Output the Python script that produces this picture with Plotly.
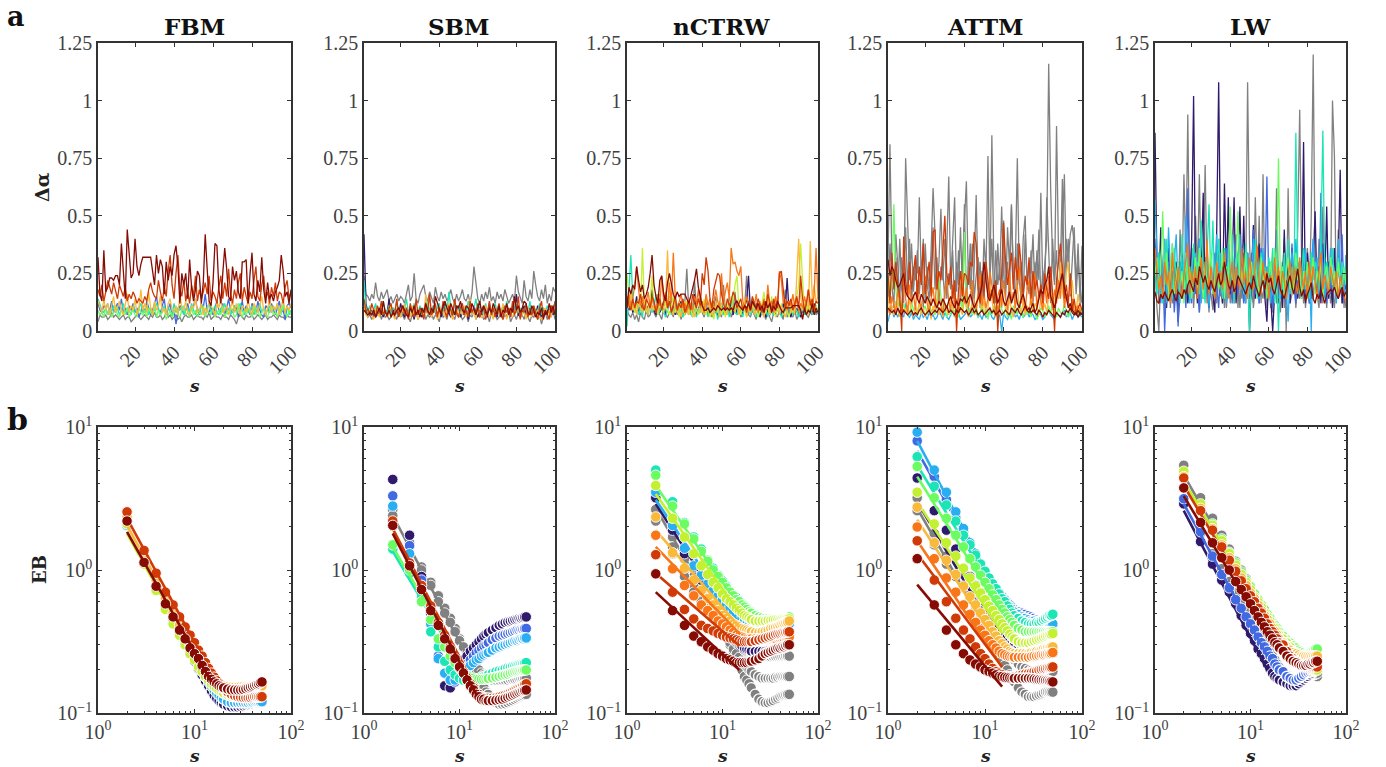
import plotly.graph_objects as go

# All values are estimates.
# Top row: delta-alpha in hundredths, one value per s = 1, 2, 3, ...
GRAY="#808080";NAVY="#2f1a6c";BLUE="#4169e1";LBLUE="#29aef2";TEAL="#1ce5b5";GREEN="#6dfb62";YGREEN="#c4f032";AMBER="#f9b93b";ORANGE="#f87518";RED="#cf3a06";DARK="#860b03"
ORDER=[GRAY,NAVY,BLUE,LBLUE,TEAL,GREEN,YGREEN,AMBER,ORANGE,RED,DARK]

fbm_gray=[4,7,6,6,7,5,6,8,6,7,6,5,6,7,5,6,6,4,5,6,7,6,5,6,7,6,5,7,6,8,6,6,7,5,6,8,6,7,5,6,7,5,6,4,6,7,6,6,7,5,6,7,6,6,5,7,6,8,5,6,7,6,6,5,7,6,6,5,7,6,5,3,6,7,6,5,7,6,6,7,5,6,7,6,5,6,7,5,6,6,7,6,5,7,6,6,5,7,6,6]
fbm_blue=[12,9,8,11,10,7,9,13,8,10,12,9,14,8,10,7,11,9,12,8,10,6,9,11,8,13,10,7,9,12,15,9,8,11,14,7,10,12,6,9,3,8,11,10,7,9,12,8,10,11,14,9,7,12,10,16,9,8,11,7,10,13,9,8,12,7,10,14,9,8,11,10,6,9,13,8,11,9,7,12,10,8,13,9,7,6,11,10,8,12,9,7,10,13,8,9,5,11,12,10]
fbm_teal=[14,11,9,8,10,12,7,9,11,8,10,7,9,12,8,10,9,7,11,9,8,10,12,8,9,11,7,10,8,9,12,10,7,9,11,8,10,9,7,12,8,10,9,11,7,9,10,8,12,9,7,10,8,11,9,7,10,12,8,9,11,8,7,10,9,12,8,10,7,9,11,8,10,12,9,7,10,8,9,11,7,10,9,12,8,10,7,9,11,8,10,9,12,7,9,10,8,11,7,9]
fbm_green=[9,7,8,6,10,7,9,6,8,11,7,6,9,8,7,10,6,8,9,7,6,10,8,7,9,6,10,8,7,11,6,9,7,8,10,5,7,9,6,8,10,7,6,9,11,7,8,6,10,7,9,6,8,7,11,6,9,8,7,10,6,8,9,7,11,6,8,7,10,9,6,7,12,8,6,9,7,10,8,6,11,7,9,6,8,10,7,6,9,11,7,8,6,10,7,12,8,6,9,7]
fbm_amber=[13,10,8,14,9,12,7,11,15,8,10,13,9,7,12,16,8,11,9,14,7,10,18,9,12,8,17,10,7,13,9,11,15,8,10,7,12,14,9,8,11,7,16,10,9,13,8,7,11,10,14,8,9,12,7,10,8,13,11,9,7,12,10,14,8,9,11,7,10,13,8,12,9,7,11,10,8,14,9,7,12,10,8,11,15,9,7,10,13,8,11,9,12,7,10,14,8,11,9,12]
fbm_red=[18,15,20,13,17,22,19,16,21,18,14,20,17,15,19,13,16,14,17,15,12,14,13,12,15,13,18,21,17,15,14,22,17,13,19,15,26,33,20,14,25,33,18,15,22,13,17,12,20,15,24,13,18,14,17,21,16,24,13,17,15,12,19,24,14,21,15,27,16,12,18,14,21,25,13,19,15,12,17,14,22,28,15,13,20,24,14,17,12,19,15,21,13,17,16,12,19,22,14,17]
fbm_dark=[32,16,13,35,17,19,23,23,22,24,24,20,38,24,14,44,31,23,25,40,28,24,29,32,32,32,32,32,26,20,33,25,31,28,16,30,22,28,24,33,37,28,12,25,20,25,14,31,19,13,18,26,24,12,21,42,27,13,11,21,38,37,18,12,25,36,27,15,13,28,22,26,17,14,30,30,31,12,25,34,16,13,22,17,32,18,12,21,14,16,13,17,19,22,33,26,15,17,12,18]

sbm_gray=[24,16,15,13,16,14,21,15,13,17,14,16,18,13,15,12,14,16,13,15,14,12,16,20,13,15,25,14,12,16,18,20,15,13,17,14,12,19,15,13,17,14,16,13,15,18,14,12,16,13,15,18,14,13,16,12,17,28,22,14,12,16,13,17,14,19,13,15,12,17,14,16,13,18,15,12,14,16,13,24,17,14,12,22,15,13,18,14,26,20,15,13,18,14,20,12,16,13,19,17]
sbm_gray2=[9,8,6,7,5,8,6,7,9,5,8,6,7,5,6,8,7,5,9,6,7,5,8,6,4,7,6,8,5,7,6,9,5,7,6,8,5,7,6,4,8,6,7,5,9,6,7,5,8,6,7,5,6,8,4,7,6,9,5,7,6,8,5,6,7,4,8,6,7,5,6,9,5,7,6,8,4,6,7,5,8,6,7,5,9,6,4,7,6,8,5,7,3,6,8,5,7,6,9,5]
sbm_navy=[42,12,8,7,9,6,10,8,7,11,6,9,8,14,7,10,6,9,7,12,8,6,10,7,11,8,5,9,7,10,6,8,13,7,9,6,11,8,7,10,6,9,12,7,8,6,10,7,9,11,6,8,7,10,5,9,7,11,8,6,9,7,10,8,6,12,7,9,8,6,10,7,11,8,6,9,7,10,8,16,7,6,9,11,7,8,10,6,9,7,11,8,6,10,7,9,8,11,7,9]
sbm_teal=[22,10,8,11,7,9,12,8,10,7,13,9,8,11,7,10,9,13,8,7,11,9,14,8,10,7,12,9,8,11,7,10,8,13,9,7,11,8,10,12,7,9,11,8,17,10,7,12,8,9,11,7,10,8,13,9,7,10,14,8,11,9,7,12,8,10,7,9,12,8,11,7,10,9,13,8,7,11,9,12,8,10,7,9,11,8,13,7,10,9,8,12,7,10,8,11,9,7,10,12]
sbm_amber=[11,7,6,9,7,5,10,8,6,12,7,9,6,8,11,7,5,10,8,6,9,12,7,8,6,11,7,9,5,8,10,6,16,7,9,6,8,11,5,7,10,8,6,9,12,7,5,8,10,6,9,7,11,6,8,14,7,9,5,10,8,6,7,11,9,6,8,5,10,7,9,6,12,8,5,10,7,6,9,8,11,6,7,9,5,10,8,6,11,7,9,6,5,8,10,7,9,6,11,8]
sbm_red=[14,8,10,7,12,9,6,11,8,13,7,9,6,10,12,7,8,14,6,9,11,7,10,5,12,8,6,14,7,10,9,5,11,8,16,7,9,12,6,10,7,13,8,6,11,9,7,14,8,6,10,12,7,9,6,13,8,10,7,12,6,9,11,5,8,13,7,10,6,9,12,7,5,11,8,10,6,13,7,9,15,5,10,8,12,6,9,7,11,8,5,10,13,6,9,7,5,11,8,13]
sbm_dark=[9,8,7,8,7,9,6,8,10,7,13,8,7,9,6,8,7,9,10,8,11,9,7,6,10,8,11,7,9,6,10,8,12,9,7,10,8,15,12,9,7,11,13,10,8,12,9,7,11,10,13,9,8,11,10,8,12,9,7,10,13,8,11,9,7,10,8,12,9,7,11,6,9,8,12,7,10,8,15,9,11,8,10,13,12,8,7,11,9,6,8,7,10,5,9,7,12,8,11,7]

nctrw_gray=[9,7,6,8,5,7,4,8,6,5,9,6,7,11,8,6,9,7,5,10,7,6,8,9,6,12,7,9,5,8,13,27,10,8,6,22,9,7,11,8,6,10,7,12,6,8,15,6,8,6,20,9,7,15,6,8,17,7,10,6,8,11,24,7,6,9,7,5,10,6,8,7,5,10,6,4,8,7,6,9,7,5,18,6,8,7,6,9,5,7,8,6,9,7,6,8,7,10,7,8]
nctrw_navy=[11,9,13,8,10,15,7,12,9,14,8,11,10,18,9,7,12,8,10,13,7,9,15,8,11,7,10,9,13,8,7,12,9,11,8,16,7,10,12,9,8,15,7,11,9,13,8,7,10,12,7,9,11,8,14,7,10,8,12,9,7,11,13,24,8,10,7,12,9,6,11,8,6,10,7,9,13,7,10,8,7,12,9,23,8,6,11,7,10,8,6,9,7,11,8,9,7,12,8,9]
nctrw_teal=[2,16,33,14,8,12,7,10,6,13,9,7,12,8,10,16,7,9,11,8,6,10,14,7,9,8,12,7,10,6,9,11,8,7,12,9,6,10,8,13,7,9,6,11,8,7,10,5,9,12,7,8,11,6,10,14,8,7,12,9,6,11,8,10,7,9,13,6,8,11,7,10,9,6,12,8,7,10,9,11,6,8,10,7,12,9,7,11,8,6,10,9,7,12,8,10,7,9,11,8]
nctrw_ygreen=[25,15,10,13,8,11,14,9,36,12,8,10,13,24,9,11,7,12,10,8,13,9,7,11,15,8,10,6,12,9,7,13,8,10,6,11,9,7,12,8,14,7,10,6,9,5,11,8,13,7,10,6,12,9,8,15,20,24,10,7,12,9,6,11,8,13,7,10,6,9,12,17,8,11,7,15,9,6,10,8,12,7,11,9,6,10,8,13,15,20,38,22,10,8,12,9,14,7,11,8]
nctrw_amber=[14,10,17,9,12,7,13,10,8,15,11,7,14,9,12,10,8,16,9,11,13,35,12,9,7,14,8,11,6,10,13,8,7,12,9,6,11,14,8,10,7,15,9,12,7,8,13,10,6,11,14,8,7,12,15,10,8,13,7,11,9,14,6,10,8,12,7,11,9,13,8,6,10,14,7,12,9,8,15,7,11,9,6,10,13,8,12,7,25,40,15,9,12,10,7,39,14,20,12,15]
nctrw_orange=[12,16,10,14,20,28,18,11,15,9,13,17,10,14,12,8,16,11,24,13,17,10,21,12,34,15,9,13,16,10,12,8,14,11,9,15,12,18,10,13,8,16,11,14,9,12,18,13,10,25,12,17,21,14,36,29,30,26,24,28,13,10,15,12,9,14,11,16,8,12,10,14,9,20,11,13,8,15,10,26,22,12,14,9,13,11,16,10,14,8,12,10,15,11,18,13,9,16,36,14]
nctrw_red=[15,11,9,14,10,13,12,16,11,9,14,12,10,15,13,8,11,14,9,12,16,10,13,8,11,15,9,12,10,14,8,11,13,9,16,12,10,14,11,25,20,32,26,14,10,18,22,25,24,16,12,9,14,11,13,17,15,10,12,14,9,11,8,13,10,15,12,9,14,11,8,13,10,16,12,9,14,11,10,25,26,17,10,13,11,14,9,12,15,10,24,14,9,12,18,11,14,9,13,12]
nctrw_dark=[10,19,16,20,18,28,22,17,20,14,16,19,25,33,20,15,12,22,24,16,13,21,25,20,16,14,17,15,16,16,16,14,12,15,18,22,27,19,15,11,9,9,10,8,9,10,9,11,10,9,10,9,10,9,10,9,12,13,11,10,9,11,10,12,9,13,11,10,12,9,11,8,13,10,12,8,11,9,13,11,9,8,10,10,10,10,11,11,11,11,9,5,10,7,9,8,12,7,10,8]

attm_gray1=[30,81,28,19,32,15,40,18,12,75,48,22,38,17,30,25,58,22,40,13,28,18,35,62,42,18,30,53,25,14,36,67,20,40,58,17,35,12,28,46,65,22,38,10,28,59,18,30,14,40,25,76,18,85,30,12,38,22,54,25,14,45,28,55,20,30,75,22,14,40,50,18,30,25,42,15,35,22,60,18,28,40,116,62,30,20,89,35,18,42,68,25,40,15,30,45,20,38,12,37]
attm_gray2=[12,38,20,10,42,28,14,32,20,45,18,40,12,28,22,35,16,30,10,38,20,14,25,45,18,32,12,28,22,40,14,25,18,35,10,30,20,45,16,55,12,28,18,38,14,24,32,10,26,18,30,14,22,40,12,35,20,28,10,48,18,30,14,54,25,12,38,20,30,14,42,22,16,35,12,30,20,44,14,26,18,58,30,12,40,22,35,14,28,66,18,40,30,42,46,38,16,30,20,12]
attm_blue=[4,8,10,6,8,6,9,7,6,12,7,6,8,5,7,6,5,8,6,7,5,8,6,7,5,6,9,7,5,8,6,5,7,9,6,7,8,5,6,7,8,10,6,7,11,8,6,7,5,8,6,7,9,6,5,8,6,7,0,8,6,5,7,8,9,6,7,5,8,6,7,9,6,8,7,5,6,8,7,5,6,8,9,7,6,5,8,7,6,8,9,6,7,8,5,7,8,6,7,6]
attm_green=[26,14,22,55,18,10,14,9,12,8,11,7,13,9,10,7,12,8,9,11,7,14,8,10,7,12,22,15,8,10,6,9,7,11,8,10,6,14,9,43,12,8,10,7,9,11,6,8,12,7,10,5,9,7,11,8,6,12,9,7,10,6,8,5,11,9,7,13,8,6,10,7,9,6,12,8,5,7,10,9,6,8,11,7,15,9,6,10,8,7,12,9,6,8,10,7,9,6,10,8]
attm_amber=[15,8,11,7,13,9,6,12,8,10,7,14,9,6,11,8,13,7,10,6,9,13,5,11,8,14,7,10,6,12,9,7,15,10,6,8,12,9,7,14,10,6,9,12,7,8,16,11,9,13,7,10,20,14,8,6,11,9,16,12,10,7,14,9,6,12,20,10,8,13,7,11,9,16,8,12,10,7,14,9,12,8,15,18,9,11,20,14,30,18,12,25,30,16,22,12,8,16,10,9]
attm_orange=[10,7,15,12,8,18,11,9,25,14,8,20,12,16,9,22,13,10,17,24,12,8,14,19,10,25,15,11,7,18,22,13,9,20,11,14,8,17,25,12,19,10,15,22,13,9,18,25,11,16,10,14,26,20,12,8,15,18,11,22,14,9,25,13,17,10,20,28,12,15,9,18,22,11,14,25,10,17,13,9,20,12,24,15,10,18,12,22,14,28,10,16,12,9,14,8,10,11,8,10]
attm_red=[25,12,34,18,30,20,15,0,41,22,15,30,18,25,33,14,28,20,38,16,24,30,15,43,44,18,26,22,35,50,25,20,28,14,22,0,18,26,15,25,24,20,30,28,43,38,18,12,25,15,30,22,14,18,12,22,0,14,25,47,30,20,26,34,18,32,22,38,28,15,24,20,32,14,26,18,22,15,20,12,25,18,14,28,16,0,22,30,38,28,14,20,12,25,9,14,8,10,12,9]
attm_dark1=[31,24,28,26,22,19,20,23,25,17,15,14,13,15,17,14,12,16,14,12,15,13,11,14,12,10,13,11,14,12,10,13,15,12,10,13,11,14,13,15,12,14,16,13,10,12,14,16,20,30,22,15,13,17,20,16,12,15,18,13,11,14,17,12,15,18,12,10,14,16,12,9,8,10,12,8,10,14,18,16,20,22,28,15,12,10,14,18,22,25,19,15,10,12,9,8,7,9,7,8]
attm_dark2=[10,9,8,9,7,10,8,7,9,8,7,8,9,7,8,7,9,10,8,7,8,9,7,8,9,8,10,9,8,9,11,8,9,8,7,9,8,10,9,8,9,7,8,10,8,9,7,8,9,7,8,9,10,8,9,7,8,9,7,8,9,8,7,10,9,8,10,8,7,9,11,9,10,8,9,8,7,9,8,6,8,7,9,8,7,6,8,7,6,8,7,9,8,10,8,7,8,6,8,7]

lw_gray1=[30,10,0,25,14,40,12,28,10,38,15,30,12,44,20,68,30,94,18,36,14,50,25,68,18,30,72,20,8,34,16,25,12,40,15,28,10,22,36,12,30,16,42,10,26,14,34,20,108,38,16,12,58,20,50,12,68,14,28,22,10,30,14,62,18,8,26,40,0,62,14,32,22,15,46,96,30,12,24,36,16,50,120,28,14,40,18,54,24,10,30,16,100,76,12,44,20,34,10,33]
lw_gray2=[22,30,12,16,26,9,34,14,20,12,28,16,10,24,18,30,12,22,16,36,10,26,18,8,24,14,32,12,20,16,9,28,14,22,18,12,26,10,20,14,30,12,18,24,10,28,16,12,22,14,34,10,20,26,12,18,14,28,10,22,16,8,26,12,20,14,30,10,18,24,12,16,28,10,22,14,18,26,10,20,12,32,14,24,16,10,28,12,20,14,26,12,18,10,24,14,20,12,16,10]
lw_navy=[86,30,20,45,14,28,10,36,18,26,12,30,4,22,34,16,26,12,20,40,102,24,12,40,28,60,14,32,10,24,16,8,44,108,30,12,64,24,58,16,30,58,12,26,54,20,50,16,34,0,24,46,14,28,38,18,30,14,4,24,14,0,18,32,12,26,10,44,16,28,12,36,20,30,14,26,18,82,12,34,22,14,30,52,16,28,12,38,20,54,14,24,10,36,16,30,70,12,26,18]
lw_blue=[40,20,34,12,28,0,22,30,14,26,8,20,2,30,16,24,10,62,20,12,34,16,28,8,30,14,22,36,12,24,16,34,20,10,28,14,26,36,18,24,12,30,40,16,28,20,12,26,34,14,22,44,16,28,12,36,20,24,67,18,30,10,22,44,14,26,18,32,12,24,16,38,20,12,30,22,14,34,16,24,12,28,40,18,26,14,60,22,32,12,28,16,36,22,14,30,18,42,12,26]
lw_lblue=[57,34,22,16,28,40,12,45,26,14,30,42,18,24,32,14,50,24,12,28,16,34,22,40,12,26,18,35,10,30,20,14,42,24,34,16,28,12,38,20,26,14,32,22,42,18,28,12,34,16,26,40,20,30,14,24,36,18,28,22,12,30,18,34,26,14,22,30,18,4,26,34,16,40,22,30,14,26,36,18,28,0,40,20,32,16,42,24,14,30,22,36,18,26,12,40,24,30,16,33]
lw_teal=[28,16,34,20,12,28,40,18,26,14,36,22,30,12,42,24,18,32,14,26,38,20,30,16,48,24,12,34,55,20,48,16,28,40,22,14,36,24,30,18,42,12,26,34,20,28,16,38,24,0,30,18,40,14,26,34,20,28,16,32,24,36,12,30,0,26,18,34,22,40,16,28,20,86,30,16,24,36,18,28,14,34,22,30,26,18,40,87,24,30,16,28,36,20,26,32,18,30,22,26]
lw_green=[24,32,18,26,52,20,34,14,28,38,16,24,30,18,26,12,34,20,28,14,22,32,18,36,24,14,30,20,26,34,16,24,30,18,22,36,14,28,20,54,24,16,30,52,18,26,20,34,14,24,30,18,28,22,16,32,20,26,14,24,30,18,36,22,75,20,28,14,26,32,18,24,16,34,22,28,14,26,20,30,18,24,32,16,26,22,30,14,24,28,18,32,20,26,16,30,22,18,28,20]
lw_orange=[36,28,18,24,14,30,20,26,12,34,22,16,28,20,14,24,30,38,16,26,20,28,14,22,32,18,24,40,16,28,20,14,30,22,26,18,34,20,14,24,30,16,28,22,18,36,20,26,14,32,24,18,28,37,20,16,30,22,26,14,24,18,32,20,28,16,26,22,14,24,30,18,28,20,16,32,24,18,26,14,30,20,28,22,14,26,34,18,24,20,16,28,22,18,26,14,24,20,16,12]
lw_dark=[17,13,12,16,14,17,15,13,16,18,15,13,17,16,14,18,16,20,22,19,17,23,20,28,25,21,24,20,18,22,19,17,21,25,20,22,30,24,20,18,22,17,19,24,22,20,18,16,19,21,18,24,20,17,15,19,22,18,25,21,23,18,16,20,24,18,16,14,18,21,24,19,16,22,27,19,15,18,13,16,18,21,14,12,16,14,18,15,12,16,17,18,17,19,16,14,17,19,15,17]

# Bottom row: EB at s in S
S=[2,3,4,5,6,7,8,9,10,11,12,13,14,15,16,17,18,19,20,22,24,26,28,30,32,34,36,38,40,42,44,46,48,50]

fbm_b_navy=[2.1,1.12,.76,.56,.44,.36,.3,.26,.23,.205,.185,.168,.155,.143,.133,.127,.122,.118,.115,.112,.11,.11,.11,.111,.112,.113,.114,.115,.116,.117,.118,.119,.12,.12]
fbm_b_lblue=[2.05,1.12,.76,.57,.45,.37,.31,.27,.24,.215,.195,.178,.165,.154,.145,.138,.133,.128,.125,.12,.118,.118,.118,.118,.118,.118,.118,.119,.119,.12,.12,.12,.12,.12]
fbm_b_ygreen=[2.1,1.1,.72,.53,.42,.35,.3,.26,.235,.21,.195,.18,.17,.16,.153,.148,.144,.141,.138,.134,.131,.13,.13,.13,.13,.13,.13,.13,.13,.13,.13,.13,.13,.13]
fbm_b_amber=[2.35,1.25,.85,.63,.5,.41,.35,.3,.27,.245,.22,.205,.19,.178,.17,.165,.16,.157,.155,.153,.152,.152,.152,.153,.154,.154,.155,.155,.155,.155,.155,.155,.155,.155]
fbm_b_red=[2.55,1.37,.95,.7,.57,.47,.4,.35,.31,.275,.25,.225,.205,.19,.178,.168,.16,.153,.148,.14,.135,.132,.13,.129,.128,.128,.128,.128,.129,.13,.13,.13,.13,.13]
fbm_b_dark=[2.2,1.13,.77,.58,.47,.38,.33,.285,.26,.24,.215,.195,.18,.172,.165,.16,.155,.152,.15,.147,.145,.145,.145,.145,.146,.148,.15,.152,.154,.156,.158,.16,.163,.165]

sbm_b_gray=[2.65,1.75,1.05,.82,.66,.54,.46,.39,.33,.29,.26,.23,.21,.19,.175,.16,.15,.14,.135,.125,.118,.115,.115,.116,.118,.12,.122,.124,.126,.128,.13,.132,.134,.135]
sbm_b_gray2=[2.4,1.55,1.0,.78,.6,.5,.43,.37,.32,.29,.26,.24,.22,.21,.2,.19,.185,.18,.175,.17,.17,.17,.17,.17,.17,.172,.172,.172,.173,.174,.175,.175,.176,.176]
sbm_b_navy=[4.3,1.75,.9,.5,.24,.155,.15,.19,.215,.235,.25,.27,.285,.3,.315,.33,.345,.355,.365,.38,.395,.41,.42,.43,.435,.44,.445,.45,.455,.46,.46,.465,.47,.47]
sbm_b_blue=[3.3,1.48,.85,.45,.25,.19,.17,.165,.18,.2,.22,.235,.25,.265,.275,.285,.295,.3,.31,.325,.335,.345,.35,.355,.36,.365,.37,.375,.38,.38,.385,.385,.39,.39]
sbm_b_lblue=[2.8,1.3,.78,.42,.24,.19,.17,.17,.18,.19,.205,.215,.225,.235,.24,.25,.255,.26,.265,.275,.285,.29,.295,.3,.305,.31,.315,.32,.32,.325,.33,.33,.335,.335]
sbm_b_teal=[1.4,.95,.64,.37,.29,.23,.2,.185,.175,.17,.168,.168,.17,.172,.175,.178,.18,.183,.185,.19,.195,.198,.2,.205,.208,.21,.213,.215,.217,.22,.222,.223,.224,.225]
sbm_b_green=[1.5,1.0,.6,.45,.33,.29,.25,.225,.205,.19,.18,.178,.175,.172,.172,.172,.172,.173,.174,.176,.178,.18,.183,.185,.187,.19,.192,.194,.196,.197,.198,.199,.2,.2]
sbm_b_red=[2.2,1.12,.78,.56,.43,.35,.29,.25,.22,.195,.175,.16,.15,.14,.135,.13,.128,.127,.127,.127,.128,.13,.132,.134,.136,.139,.142,.145,.148,.15,.152,.155,.158,.16]
sbm_b_dark=[2.05,1.07,.73,.52,.41,.33,.28,.24,.21,.19,.17,.155,.145,.135,.13,.125,.125,.122,.122,.122,.123,.124,.125,.127,.129,.131,.133,.135,.137,.139,.141,.143,.144,.145]

nctrw_b_gray1=[3.2,1.7,1.2,.9,.72,.6,.5,.43,.38,.34,.3,.27,.24,.22,.2,.18,.17,.16,.15,.135,.125,.12,.118,.118,.12,.122,.125,.127,.13,.132,.133,.134,.135,.135]
nctrw_b_gray2=[2.65,1.45,1.0,.78,.63,.53,.46,.42,.38,.34,.31,.28,.26,.245,.23,.22,.21,.2,.195,.185,.18,.175,.175,.175,.175,.175,.178,.178,.18,.18,.18,.18,.18,.18]
nctrw_b_gray3=[2.2,1.3,.9,.7,.6,.52,.47,.43,.4,.37,.35,.33,.31,.3,.285,.275,.27,.265,.26,.255,.25,.248,.247,.247,.247,.248,.248,.248,.248,.248,.249,.25,.25,.25]
nctrw_b_navy=[3.2,1.9,1.3,1.05,.85,.55,.48,.44,.41,.39,.37,.35,.33,.31,.295,.285,.28,.275,.27,.27,.27,.27,.27,.272,.274,.276,.278,.28,.283,.285,.288,.29,.295,.3]
nctrw_b_lblue=[3.5,2.05,1.42,1.07,.92,.8,.72,.66,.62,.58,.55,.52,.5,.48,.46,.44,.42,.41,.4,.39,.38,.375,.375,.378,.38,.385,.39,.395,.4,.405,.41,.415,.42,.42]
nctrw_b_teal=[5.0,3.0,2.15,1.7,1.4,1.17,1.03,.92,.84,.77,.71,.67,.64,.61,.58,.56,.54,.52,.51,.49,.47,.46,.46,.455,.45,.45,.45,.45,.45,.45,.45,.45,.45,.45]
nctrw_b_green=[4.6,2.8,2.1,1.65,1.35,1.15,1.0,.9,.82,.75,.7,.66,.62,.6,.57,.55,.53,.51,.5,.48,.47,.465,.46,.46,.46,.46,.46,.46,.46,.46,.46,.465,.465,.47]
nctrw_b_ygreen=[3.9,2.3,1.7,1.3,1.07,.93,.82,.75,.68,.63,.6,.57,.54,.52,.5,.48,.47,.46,.45,.44,.44,.44,.44,.445,.445,.45,.45,.45,.45,.455,.455,.455,.455,.455]
nctrw_b_amber=[2.35,1.32,1.03,.85,.72,.63,.57,.52,.48,.46,.44,.42,.41,.4,.39,.385,.38,.375,.37,.365,.365,.37,.375,.38,.39,.395,.4,.405,.41,.42,.425,.43,.435,.44]
nctrw_b_orange=[1.75,1.02,.78,.66,.57,.52,.48,.44,.42,.4,.38,.365,.35,.345,.34,.335,.33,.33,.33,.33,.33,.33,.33,.33,.33,.33,.33,.335,.335,.335,.335,.34,.34,.34]
nctrw_b_red=[1.28,.7,.53,.455,.41,.39,.375,.36,.35,.34,.335,.33,.325,.32,.315,.315,.315,.315,.315,.32,.325,.33,.335,.34,.345,.35,.355,.358,.36,.363,.365,.367,.37,.37]
nctrw_b_dark=[.94,.52,.41,.345,.315,.29,.275,.26,.25,.24,.235,.23,.225,.225,.225,.225,.225,.228,.23,.235,.24,.25,.26,.265,.27,.275,.28,.285,.285,.29,.29,.295,.3,.3]

attm_b_gray1=[3.2,1.8,1.25,.95,.76,.63,.53,.46,.4,.35,.31,.28,.255,.235,.215,.2,.185,.175,.165,.15,.14,.135,.13,.13,.13,.132,.134,.136,.138,.14,.14,.14,.14,.14]
attm_b_gray2=[2.6,1.5,1.1,.9,.78,.67,.58,.52,.47,.42,.38,.35,.32,.3,.28,.27,.255,.245,.235,.22,.21,.205,.2,.198,.196,.195,.195,.195,.195,.195,.195,.195,.195,.195]
attm_b_navy=[4.4,2.6,1.9,1.4,1.0,.9,.78,.68,.6,.54,.48,.44,.41,.38,.36,.34,.32,.31,.3,.29,.285,.285,.29,.295,.3,.31,.32,.33,.345,.36,.37,.39,.41,.42]
attm_b_blue=[8.0,4.5,3.1,2.3,1.85,1.5,1.27,1.1,.98,.88,.8,.74,.69,.65,.62,.59,.57,.55,.53,.51,.5,.49,.48,.47,.46,.45,.44,.43,.43,.425,.42,.42,.42,.42]
attm_b_lblue=[9.2,5.0,3.5,2.55,1.95,1.55,1.3,1.1,.98,.88,.8,.73,.68,.63,.6,.57,.55,.53,.51,.49,.47,.46,.45,.44,.44,.43,.43,.43,.43,.425,.42,.42,.42,.42]
attm_b_teal=[6.2,3.85,2.85,2.2,1.75,1.5,1.27,1.1,.98,.88,.8,.74,.68,.63,.6,.56,.53,.5,.48,.46,.44,.43,.42,.42,.42,.43,.43,.44,.45,.46,.47,.48,.48,.49]
attm_b_green=[5.3,3.2,2.3,1.75,1.45,1.2,1.05,.92,.82,.74,.67,.62,.57,.53,.5,.47,.45,.43,.41,.39,.38,.37,.37,.37,.37,.37,.37,.37,.37,.37,.37,.37,.37,.37]
attm_b_ygreen=[3.5,2.1,1.55,1.25,1.03,.88,.77,.69,.62,.56,.52,.48,.45,.42,.395,.375,.355,.34,.33,.315,.31,.31,.31,.315,.32,.325,.33,.335,.34,.345,.35,.352,.355,.36]
attm_b_amber=[2.75,1.55,1.17,.93,.77,.65,.57,.5,.45,.41,.37,.345,.32,.305,.29,.28,.27,.265,.26,.26,.26,.26,.26,.265,.265,.27,.27,.275,.28,.28,.285,.285,.29,.29]
attm_b_orange=[2.0,1.2,.88,.7,.57,.49,.43,.38,.35,.32,.3,.285,.27,.26,.255,.25,.248,.246,.245,.245,.245,.245,.245,.248,.25,.25,.252,.255,.255,.258,.26,.26,.262,.265]
attm_b_red=[1.6,.85,.6,.46,.38,.33,.29,.26,.24,.22,.205,.195,.19,.185,.18,.18,.18,.18,.18,.182,.185,.188,.19,.192,.195,.197,.2,.202,.204,.205,.207,.208,.209,.21]
attm_b_dark=[1.2,.57,.38,.3,.26,.235,.22,.21,.2,.195,.19,.185,.18,.18,.178,.177,.176,.175,.175,.175,.175,.175,.175,.174,.173,.172,.171,.17,.17,.169,.168,.167,.166,.165]

lw_b_gray1=[5.4,3.2,2.3,1.75,1.4,1.15,1.0,.87,.77,.68,.62,.56,.52,.48,.44,.41,.39,.37,.35,.32,.3,.28,.26,.25,.235,.225,.215,.205,.2,.195,.19,.185,.18,.18]
lw_b_gray2=[3.0,1.8,1.3,1.02,.83,.69,.59,.52,.46,.41,.37,.34,.31,.285,.265,.25,.235,.22,.21,.195,.185,.175,.17,.17,.172,.174,.176,.178,.18,.182,.184,.186,.188,.19]
lw_b_navy=[2.9,1.58,1.1,.85,.7,.58,.48,.41,.36,.32,.28,.26,.24,.22,.205,.19,.18,.175,.17,.165,.16,.155,.155,.155,.16,.165,.17,.175,.18,.185,.19,.195,.2,.2]
lw_b_blue=[3.15,1.85,1.25,.93,.75,.62,.54,.47,.42,.38,.34,.31,.29,.27,.25,.24,.22,.21,.2,.195,.18,.175,.17,.17,.175,.18,.185,.19,.192,.194,.196,.198,.2,.2]
lw_b_green=[4.7,2.85,2.1,1.65,1.33,1.12,.97,.85,.76,.68,.62,.57,.53,.49,.46,.43,.41,.39,.37,.345,.325,.31,.295,.285,.275,.27,.265,.26,.26,.265,.27,.275,.28,.28]
lw_b_ygreen=[4.9,2.9,2.05,1.6,1.3,1.08,.93,.82,.73,.65,.6,.55,.5,.47,.44,.41,.39,.37,.35,.33,.31,.29,.27,.26,.25,.24,.23,.22,.21,.21,.2,.2,.2,.2]
lw_b_amber=[4.5,2.7,1.95,1.5,1.22,1.02,.88,.78,.69,.63,.57,.52,.48,.45,.42,.39,.37,.35,.33,.31,.29,.275,.265,.26,.255,.25,.25,.25,.25,.25,.25,.25,.25,.25]
lw_b_red=[4.4,2.6,1.9,1.45,1.17,.98,.84,.74,.66,.6,.54,.5,.46,.42,.39,.37,.35,.33,.31,.3,.27,.25,.24,.23,.22,.215,.21,.21,.21,.21,.21,.21,.21,.21]
lw_b_dark=[3.75,2.15,1.55,1.22,1.0,.83,.73,.65,.58,.52,.47,.43,.4,.37,.35,.33,.31,.3,.285,.27,.25,.24,.23,.225,.22,.215,.215,.215,.22,.22,.225,.225,.23,.23]

# straight fit lines: EB at s = 2 and s = 15
FIT_S=[2,15]
fit_fbm=[(YGREEN,1.8,.155),(AMBER,2.05,.17),(RED,2.3,.19),(DARK,1.85,.165)]
fit_sbm=[(GRAY,2.4,.19),(TEAL,1.35,.14),(GREEN,1.45,.15),(AMBER,1.8,.15),(RED,1.95,.145),(DARK,1.8,.135)]
fit_nctrw=[(GRAY,2.7,.27),(NAVY,2.9,.36),(LBLUE,3.1,.42),(GREEN,3.9,.55),(YGREEN,3.4,.5),(AMBER,1.9,.4),(ORANGE,1.45,.36),(RED,.95,.295),(DARK,.7,.2)]
fit_attm=[(GRAY,2.7,.25),(NAVY,3.0,.3),(BLUE,6.8,.6),(LBLUE,8.0,.6),(TEAL,5.4,.58),(GREEN,4.5,.5),(YGREEN,3.0,.36),(AMBER,2.25,.27),(ORANGE,1.6,.21),(RED,1.3,.21),(DARK,.79,.153)]
fit_lw=[(GRAY,4.6,.45),(NAVY,2.6,.2),(BLUE,2.9,.25),(GREEN,4.0,.47),(YGREEN,4.2,.45),(RED,3.9,.4),(DARK,3.3,.35)]

TITLES=["FBM","SBM","nCTRW","ATTM","LW"]
top=[
 [(GRAY,fbm_gray),(BLUE,fbm_blue),(TEAL,fbm_teal),(GREEN,fbm_green),(AMBER,fbm_amber),(RED,fbm_red),(DARK,fbm_dark)],
 [(GRAY,sbm_gray),(GRAY,sbm_gray2),(NAVY,sbm_navy),(TEAL,sbm_teal),(AMBER,sbm_amber),(RED,sbm_red),(DARK,sbm_dark)],
 [(GRAY,nctrw_gray),(NAVY,nctrw_navy),(TEAL,nctrw_teal),(YGREEN,nctrw_ygreen),(AMBER,nctrw_amber),(ORANGE,nctrw_orange),(RED,nctrw_red),(DARK,nctrw_dark)],
 [(GRAY,attm_gray1),(GRAY,attm_gray2),(LBLUE,attm_blue),(GREEN,attm_green),(AMBER,attm_amber),(ORANGE,attm_orange),(RED,attm_red),(DARK,attm_dark1),(DARK,attm_dark2)],
 [(GRAY,lw_gray1),(GRAY,lw_gray2),(NAVY,lw_navy),(BLUE,lw_blue),(LBLUE,lw_lblue),(TEAL,lw_teal),(GREEN,lw_green),(ORANGE,lw_orange),(DARK,lw_dark)],
]
bottom=[
 [(NAVY,fbm_b_navy),(LBLUE,fbm_b_lblue),(YGREEN,fbm_b_ygreen),(AMBER,fbm_b_amber),(RED,fbm_b_red),(DARK,fbm_b_dark)],
 [(GRAY,sbm_b_gray),(GRAY,sbm_b_gray2),(NAVY,sbm_b_navy),(BLUE,sbm_b_blue),(LBLUE,sbm_b_lblue),(TEAL,sbm_b_teal),(GREEN,sbm_b_green),(RED,sbm_b_red),(DARK,sbm_b_dark)],
 [(GRAY,nctrw_b_gray1),(GRAY,nctrw_b_gray2),(GRAY,nctrw_b_gray3),(NAVY,nctrw_b_navy),(LBLUE,nctrw_b_lblue),(TEAL,nctrw_b_teal),(GREEN,nctrw_b_green),(YGREEN,nctrw_b_ygreen),(AMBER,nctrw_b_amber),(ORANGE,nctrw_b_orange),(RED,nctrw_b_red),(DARK,nctrw_b_dark)],
 [(GRAY,attm_b_gray1),(GRAY,attm_b_gray2),(NAVY,attm_b_navy),(BLUE,attm_b_blue),(LBLUE,attm_b_lblue),(TEAL,attm_b_teal),(GREEN,attm_b_green),(YGREEN,attm_b_ygreen),(AMBER,attm_b_amber),(ORANGE,attm_b_orange),(RED,attm_b_red),(DARK,attm_b_dark)],
 [(GRAY,lw_b_gray1),(GRAY,lw_b_gray2),(NAVY,lw_b_navy),(BLUE,lw_b_blue),(GREEN,lw_b_green),(YGREEN,lw_b_ygreen),(AMBER,lw_b_amber),(RED,lw_b_red),(DARK,lw_b_dark)],
]
fits=[fit_fbm,fit_sbm,fit_nctrw,fit_attm,fit_lw]

W,H=1386,767
LEFT=[98,364,627,888,1155];RIGHT=[291,555,818,1082,1346]
TOP_Y=(43,331);BOT_Y=(427,713)
AX="#333333";TXT="#404040"
SERIF="Liberation Serif";BOLD="DejaVu Serif"

# white marker rims grow a little where points crowd together; the last point stays crisp
rim=[0.9 if s<10 else 1.0 if s<20 else 1.3 for s in S]
rim[-1]=0.9

fig=go.Figure()
layout=dict(width=W,height=H,margin=dict(l=0,r=0,t=0,b=0,autoexpand=False),paper_bgcolor="white",plot_bgcolor="white",showlegend=False)
common=dict(showline=True,linecolor=AX,linewidth=1.5,mirror="allticks",ticks="inside",tickcolor=AX,tickwidth=1,showgrid=False,zeroline=False,
            tickfont=dict(family=SERIF,size=20,color=TXT))
annotations=[]
def note(x,y,text,size,color="#222222",angle=0,family=BOLD):
    annotations.append(dict(x=x/W,y=1-y/H,xref="paper",yref="paper",xanchor="center",yanchor="middle",text=text,textangle=angle,showarrow=False,font=dict(family=family,size=size,color=color)))
for i in range(5):
    dx=[LEFT[i]/W,RIGHT[i]/W]
    a=2*i+1
    xn,yn=f"x{a}",f"y{a}"
    layout[f"xaxis{a}"]=dict(domain=dx,anchor=yn,range=[1,100],tickvals=[20,40,60,80,100],ticktext=["20","40","60","80","100"],tickangle=-45,ticklen=4,**common)
    layout[f"yaxis{a}"]=dict(domain=[1-TOP_Y[1]/H,1-TOP_Y[0]/H],anchor=xn,range=[0,1.25],tickvals=[0,.25,.5,.75,1,1.25],ticktext=["0","0.25","0.5","0.75","1","1.25"],ticklen=4,**common)
    for col,vals in top[i]:
        fig.add_trace(go.Scatter(x=list(range(1,len(vals)+1)),y=[v/100 for v in vals],mode="lines",line=dict(color=col,width=1.3),xaxis=xn,yaxis=yn,hoverinfo="skip"))
    b=2*i+2
    xn,yn=f"x{b}",f"y{b}"
    logminor=dict(ticks="inside",ticklen=2,tickcolor=AX,tickwidth=1,dtick="D1")
    layout[f"xaxis{b}"]=dict(domain=dx,anchor=yn,type="log",range=[0,2],tickvals=[1,10,100],ticktext=["10<sup>0</sup>","10<sup>1</sup>","10<sup>2</sup>"],ticklen=4,minor=logminor,**common)
    layout[f"yaxis{b}"]=dict(domain=[1-BOT_Y[1]/H,1-BOT_Y[0]/H],anchor=xn,type="log",range=[-1,1],tickvals=[.1,1,10],ticktext=["10<sup>\u22121</sup>","10<sup>0</sup>","10<sup>1</sup>"],ticklen=4,minor=logminor,**common)
    for rank,c in enumerate(ORDER):
        for col,vals in bottom[i]:
            if col==c:
                fig.add_trace(go.Scatter(x=S,y=vals,mode="markers",marker=dict(color=col,size=10.5,line=dict(color="white",width=rim)),xaxis=xn,yaxis=yn,hoverinfo="skip"))
        for col,y0,y1 in fits[i]:
            if col==c:
                fig.add_trace(go.Scatter(x=FIT_S,y=[y0,y1],mode="lines",line=dict(color=col,width=2.6),xaxis=xn,yaxis=yn,hoverinfo="skip"))
    cx=(LEFT[i]+RIGHT[i])/2
    note(cx,27,f"<b>{TITLES[i]}</b>",23,"#111111")
    note(cx,386,"<b><i>s</i></b>",17)
    note(cx,756,"<b><i>s</i></b>",17)
note(16,17,"<b>a</b>",27,"#111111")
note(17,419,"<b>b</b>",30,"#111111")
note(42,187,"<b>\u0394\u03b1</b>",19,angle=-90)
note(39,570,"<b>EB</b>",18,angle=-90)
layout["annotations"]=annotations
fig.update_layout(**layout)
fig.write_html("out.html",config={"displayModeBar":False},post_script="document.body.style.margin='0';")
